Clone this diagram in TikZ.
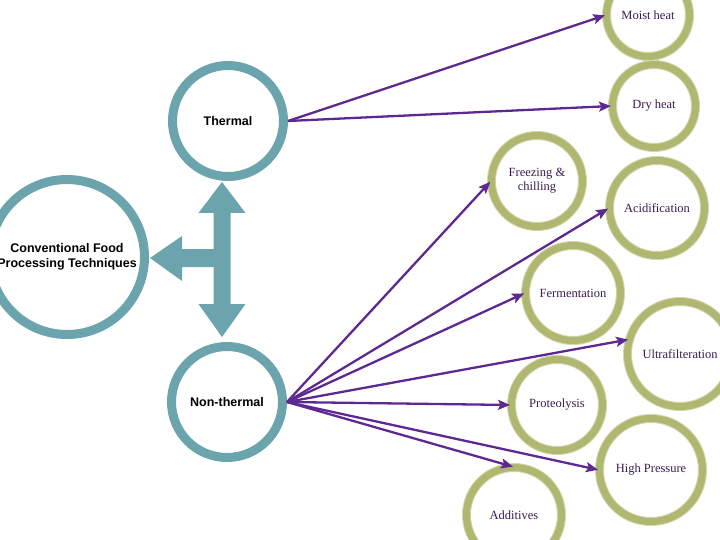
\documentclass[tikz,border=0pt]{standalone}
\usepackage{fontspec}
\setmainfont{Liberation Serif}
\newfontfamily\headfont{Liberation Sans}
\usetikzlibrary{arrows.meta,positioning}

\definecolor{ringteal}{RGB}{107,164,172}
\definecolor{ringolive}{RGB}{176,183,112}
\definecolor{ringlight}{RGB}{212,216,174}
\definecolor{arrowpurple}{RGB}{94,40,146}
\definecolor{textpurple}{RGB}{58,28,78}

\begin{document}
\begin{tikzpicture}[x=1pt, y=-1pt]
    \tikzset{
      tealnode/.style={circle,draw=ringteal,line width=9pt,fill=white,inner sep=0pt,align=center,font=\headfont\bfseries\fontsize{12.5}{15}\selectfont},
      olivenode/.style={circle,draw=ringlight,double=ringolive,double distance=7pt,line width=1pt,fill=white,inner sep=0pt,align=center,text=textpurple,font=\fontsize{12.5}{14}\selectfont},
      arrow/.style={-{Stealth[length=12pt,width=10pt,inset=2.5pt]},draw=arrowpurple,line width=2.3pt,shorten >=1pt}
    }
    \useasboundingbox (0,0) rectangle (720,540);

    % left hand side
    \node[tealnode,minimum size=155pt](conventional) at (67,257){Conventional Food\\Processing Techniques};
    \node[tealnode,minimum size=111pt](thermal) at (228,121){Thermal};
    \node[tealnode,minimum size=111pt](nonthermal) at (227,402){Non-thermal};

    % three-way arrow
    \fill[ringteal] (222,182) -- (245.5,213) -- (230.5,213) -- (230.5,304) -- (245.5,304)
      -- (222,337) -- (198.5,304) -- (213.5,304) -- (213.5,267) -- (182,267) -- (182,281)
      -- (150,258) -- (182,236) -- (182,249) -- (213.5,249) -- (213.5,213) -- (198.5,213) -- cycle;

    % techniques
    \node[olivenode,minimum size=83pt](moist) at (648,15){Moist heat};
    \node[olivenode,minimum size=83pt](dry) at (654,106){Dry heat};
    \node[olivenode,minimum size=91pt](freezing) at (537,181){Freezing \&\\chilling};
    \node[olivenode,minimum size=95pt](acidification) at (657,208){Acidification};
    \node[olivenode,minimum size=95pt](fermentation) at (573,293){Fermentation};
    \node[olivenode,minimum size=105pt](ultra) at (680,354){Ultrafilteration};
    \node[olivenode,minimum size=91pt](proteolysis) at (557,405){Proteolysis};
    \node[olivenode,minimum size=103pt](pressure) at (651,470){High Pressure};
    \node[olivenode,minimum size=95pt](additives) at (514,515){Additives};

    \draw[arrow](thermal.east) -- (moist.west);
    \draw[arrow](thermal.east) -- (dry.west);
    \draw[arrow](nonthermal.east) -- (freezing.west);
    \draw[arrow](nonthermal.east) -- (acidification.west);
    \draw[arrow](nonthermal.east) -- (fermentation.west);
    \draw[arrow](nonthermal.east) -- (ultra.164);
    \draw[arrow](nonthermal.east) -- (proteolysis.west);
    \draw[arrow](nonthermal.east) -- (pressure.west);
    \draw[arrow](nonthermal.east) -- (additives.north);
  \end{tikzpicture}
\end{document}
